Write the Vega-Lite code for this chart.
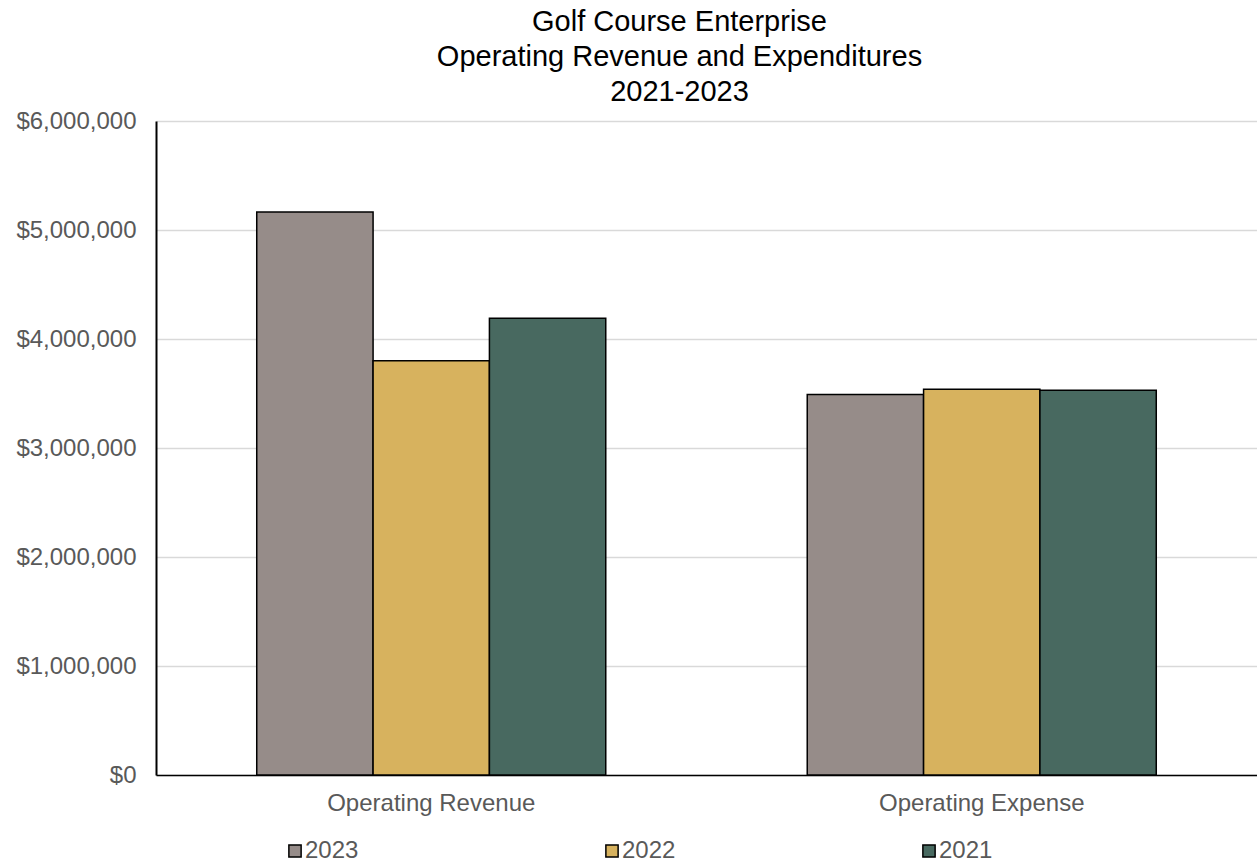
{
  "$schema": "https://vega.github.io/schema/vega-lite/v6.json",
  "autosize": "none",
  "padding": {"left": 156, "top": 121, "right": 0, "bottom": 88},
  "width": 1101,
  "height": 654,
  "background": "white",
  "title": {
    "text": ["Golf Course Enterprise", "Operating Revenue and Expenditures", "2021-2023"],
    "font": "Liberation Sans",
    "fontSize": 29,
    "fontWeight": "normal",
    "color": "#000000",
    "lineHeight": 35,
    "anchor": "middle",
    "dx": -27,
    "offset": 2
  },
  "data": {
    "values": [
      {"category": "Operating Revenue", "year": "2023", "amount": 5165000},
      {"category": "Operating Revenue", "year": "2022", "amount": 3800000},
      {"category": "Operating Revenue", "year": "2021", "amount": 4190000},
      {"category": "Operating Expense", "year": "2023", "amount": 3490000},
      {"category": "Operating Expense", "year": "2022", "amount": 3540000},
      {"category": "Operating Expense", "year": "2021", "amount": 3530000}
    ]
  },
  "mark": {"type": "bar", "stroke": "#000000", "strokeWidth": 1.5},
  "encoding": {
    "x": {
      "field": "category",
      "type": "nominal",
      "sort": ["Operating Revenue", "Operating Expense"],
      "scale": {"paddingInner": 0.366, "paddingOuter": 0.183},
      "axis": {
        "title": null,
        "labelAngle": 0,
        "ticks": false,
        "labelLimit": 500,
        "domainColor": "#000000",
        "domainWidth": 1.5,
        "labelFont": "Liberation Sans",
        "labelFontSize": 24,
        "labelColor": "#595959",
        "labelPadding": 16
      }
    },
    "xOffset": {"field": "year", "type": "nominal", "sort": ["2023", "2022", "2021"], "scale": {"paddingInner": 0, "paddingOuter": 0}},
    "y": {
      "field": "amount",
      "type": "quantitative",
      "scale": {"domain": [0, 6000000], "nice": false},
      "axis": {
        "title": null,
        "values": [0, 1000000, 2000000, 3000000, 4000000, 5000000, 6000000],
        "format": "$,.0f",
        "ticks": false,
        "labelOverlap": false,
        "domainColor": "#000000",
        "domainWidth": 2,
        "gridColor": "#d9d9d9",
        "gridWidth": 1.5,
        "labelFont": "Liberation Sans",
        "labelFontSize": 24,
        "labelColor": "#595959",
        "labelPadding": 20
      }
    },
    "color": {
      "field": "year",
      "type": "nominal",
      "sort": ["2023", "2022", "2021"],
      "scale": {"domain": ["2023", "2022", "2021"], "range": ["#968C89", "#D7B25E", "#486960"]},
      "legend": {
        "title": null,
        "orient": "none",
        "direction": "horizontal",
        "columns": 3,
        "legendX": 127,
        "legendY": 718,
        "padding": 0,
        "columnPadding": 241,
        "symbolType": "square",
        "symbolSize": 150,
        "symbolStrokeColor": "#000000",
        "symbolStrokeWidth": 1.5,
        "labelOffset": -2,
        "labelFont": "Liberation Sans",
        "labelFontSize": 24,
        "labelColor": "#595959"
      }
    }
  },
  "config": {"view": {"stroke": null}}
}
